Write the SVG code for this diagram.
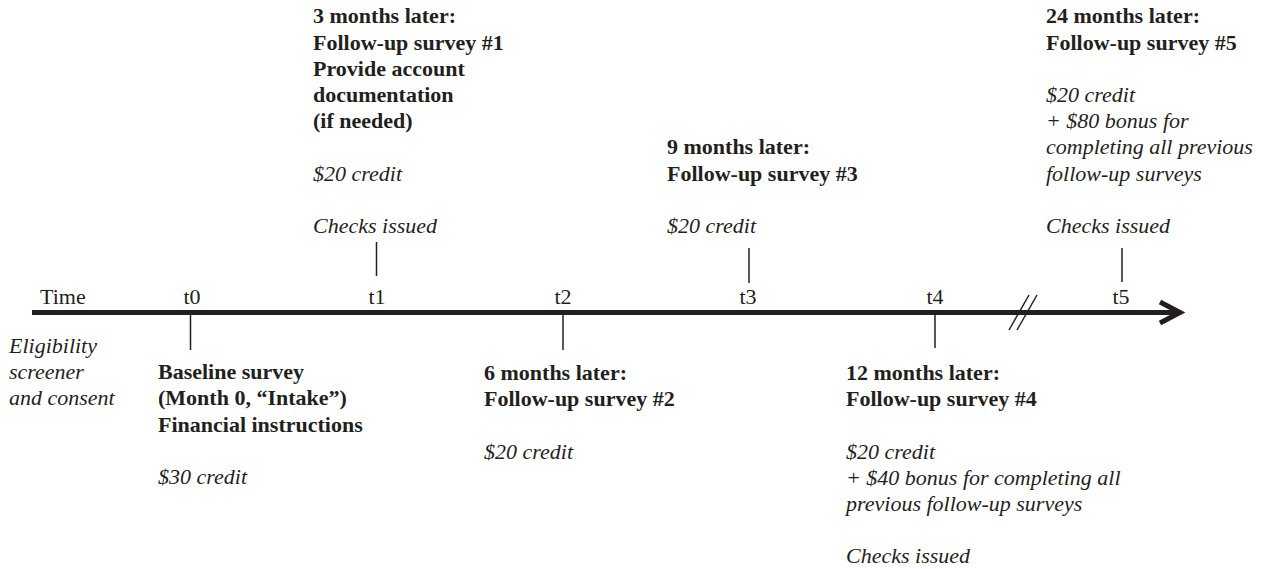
<svg xmlns="http://www.w3.org/2000/svg" width="1263" height="569" viewBox="0 0 1263 569">
<style>
text{font-family:"Liberation Serif","Times New Roman",serif;font-size:22px;fill:#231f20}
.b{font-weight:bold}
.i{font-style:italic}
.m{text-anchor:middle}
.tick{stroke:#231f20;stroke-width:1.5;fill:none}
.axis{stroke:#231f20;stroke-width:5;fill:none}
</style>
<rect width="1263" height="569" fill="#fff"/>
<g id="connectors">
<line class="axis" x1="32" y1="312.5" x2="1178" y2="312.5"/>
<polyline class="axis" points="1160,302 1180,312.5 1160,323"/>
<line class="tick" x1="1009" y1="330" x2="1029" y2="295"/>
<line class="tick" x1="1017" y1="330" x2="1037" y2="295"/>
<line class="tick" x1="190.5" y1="315" x2="190.5" y2="350"/>
<line class="tick" x1="376.5" y1="242" x2="376.5" y2="276"/>
<line class="tick" x1="563" y1="315" x2="563" y2="350"/>
<line class="tick" x1="749" y1="248" x2="749" y2="283"/>
<line class="tick" x1="935" y1="315" x2="935" y2="348"/>
<line class="tick" x1="1122" y1="248" x2="1122" y2="282"/>
</g>
<g id="axis-labels">
<text x="40" y="304">Time</text>
<text class="m" x="192" y="304">t0</text>
<text class="m" x="377" y="304">t1</text>
<text class="m" x="563" y="304">t2</text>
<text class="m" x="748" y="304">t3</text>
<text class="m" x="935" y="304">t4</text>
<text class="m" x="1121" y="304">t5</text>
</g>
<g id="eligibility">
<text class="i" x="9" y="353">Eligibility</text>
<text class="i" x="9" y="379.2">screener</text>
<text class="i" x="9" y="405.4">and consent</text>
</g>
<g id="t0-baseline">
<text class="b" x="158" y="379.2">Baseline survey</text>
<text class="b" x="158" y="405.4">(Month 0, “Intake”)</text>
<text class="b" x="158" y="431.6">Financial instructions</text>
<text class="i" x="158" y="484">$30 credit</text>
</g>
<g id="t1-followup1">
<text class="b" x="313" y="23.3">3 months later:</text>
<text class="b" x="313" y="49.5">Follow-up survey #1</text>
<text class="b" x="313" y="75.7">Provide account</text>
<text class="b" x="313" y="101.9">documentation</text>
<text class="b" x="313" y="128.1">(if needed)</text>
<text class="i" x="313" y="180.5">$20 credit</text>
<text class="i" x="313" y="232.9">Checks issued</text>
</g>
<g id="t2-followup2">
<text class="b" x="484" y="380">6 months later:</text>
<text class="b" x="484" y="406.2">Follow-up survey #2</text>
<text class="i" x="484" y="458.6">$20 credit</text>
</g>
<g id="t3-followup3">
<text class="b" x="667" y="154.3">9 months later:</text>
<text class="b" x="667" y="180.5">Follow-up survey #3</text>
<text class="i" x="667" y="232.9">$20 credit</text>
</g>
<g id="t4-followup4">
<text class="b" x="846" y="380">12 months later:</text>
<text class="b" x="846" y="406.2">Follow-up survey #4</text>
<text class="i" x="846" y="458.6">$20 credit</text>
<text class="i" x="846" y="484.8">+ $40 bonus for completing all</text>
<text class="i" x="846" y="511">previous follow-up surveys</text>
<text class="i" x="846" y="563.4">Checks issued</text>
</g>
<g id="t5-followup5">
<text class="b" x="1046" y="23.3">24 months later:</text>
<text class="b" x="1046" y="49.5">Follow-up survey #5</text>
<text class="i" x="1046" y="101.9">$20 credit</text>
<text class="i" x="1046" y="128.1">+ $80 bonus for</text>
<text class="i" x="1046" y="154.3">completing all previous</text>
<text class="i" x="1046" y="180.5">follow-up surveys</text>
<text class="i" x="1046" y="232.9">Checks issued</text>
</g>
</svg>
